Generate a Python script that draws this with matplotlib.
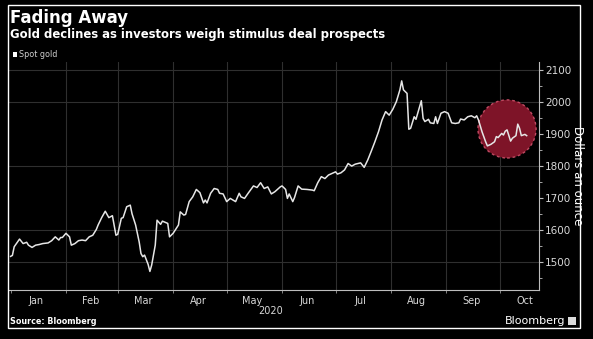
import matplotlib
matplotlib.use("Agg")
import matplotlib.pyplot as plt
import matplotlib.dates as mdates
from matplotlib.patches import Rectangle
from matplotlib.ticker import MultipleLocator, FixedLocator
import pandas as pd

# ------------------ data (spot gold)
dates = [
    "2020-01-01", "2020-01-02", "2020-01-03", "2020-01-06", "2020-01-08", "2020-01-10",
    "2020-01-11", "2020-01-13", "2020-01-15", "2020-01-17", "2020-01-19", "2020-01-22",
    "2020-01-24", "2020-01-26", "2020-01-28", "2020-01-29", "2020-01-30", "2020-02-01",
    "2020-02-03", "2020-02-04", "2020-02-06", "2020-02-08", "2020-02-10", "2020-02-12",
    "2020-02-14", "2020-02-16", "2020-02-18", "2020-02-19", "2020-02-21", "2020-02-23",
    "2020-02-25", "2020-02-27", "2020-02-29", "2020-03-01", "2020-03-03", "2020-03-04",
    "2020-03-06", "2020-03-08", "2020-03-09", "2020-03-11", "2020-03-13", "2020-03-14",
    "2020-03-15", "2020-03-16", "2020-03-18", "2020-03-19", "2020-03-20", "2020-03-22",
    "2020-03-23", "2020-03-25", "2020-03-26", "2020-03-29", "2020-03-30", "2020-04-01",
    "2020-04-04", "2020-04-05", "2020-04-07", "2020-04-08", "2020-04-10", "2020-04-12",
    "2020-04-14", "2020-04-16", "2020-04-18", "2020-04-19", "2020-04-20", "2020-04-22",
    "2020-04-24", "2020-04-26", "2020-04-27", "2020-04-29", "2020-05-01", "2020-05-03",
    "2020-05-06", "2020-05-08", "2020-05-09", "2020-05-11", "2020-05-13", "2020-05-16",
    "2020-05-18", "2020-05-20", "2020-05-22", "2020-05-24", "2020-05-26", "2020-05-28",
    "2020-05-31", "2020-06-01", "2020-06-03", "2020-06-04", "2020-06-05", "2020-06-07",
    "2020-06-08", "2020-06-10", "2020-06-12", "2020-06-15", "2020-06-18", "2020-06-19",
    "2020-06-21", "2020-06-23", "2020-06-25", "2020-06-27", "2020-06-29", "2020-07-01",
    "2020-07-02", "2020-07-04", "2020-07-06", "2020-07-08", "2020-07-10", "2020-07-12",
    "2020-07-15", "2020-07-17", "2020-07-19", "2020-07-21", "2020-07-23", "2020-07-25",
    "2020-07-27", "2020-07-29", "2020-07-31", "2020-08-02", "2020-08-04", "2020-08-06",
    "2020-08-07", "2020-08-08", "2020-08-10", "2020-08-11", "2020-08-12", "2020-08-14",
    "2020-08-15", "2020-08-18", "2020-08-19", "2020-08-20", "2020-08-22", "2020-08-23",
    "2020-08-25", "2020-08-26", "2020-08-27", "2020-08-29", "2020-08-31", "2020-09-02",
    "2020-09-04", "2020-09-06", "2020-09-08", "2020-09-09", "2020-09-11", "2020-09-13",
    "2020-09-15", "2020-09-17", "2020-09-18", "2020-09-19", "2020-09-21", "2020-09-23",
    "2020-09-24", "2020-09-26", "2020-09-28", "2020-09-29", "2020-09-30", "2020-10-02",
    "2020-10-03", "2020-10-04", "2020-10-05", "2020-10-07", "2020-10-08", "2020-10-10",
    "2020-10-11", "2020-10-12", "2020-10-13", "2020-10-15", "2020-10-16",
]
prices = [
    1517, 1520, 1547, 1571, 1557, 1561,
    1552, 1545, 1552, 1554, 1557, 1559,
    1566, 1578, 1568, 1576, 1576, 1589,
    1578, 1552, 1557, 1566, 1568, 1566,
    1578, 1583, 1601, 1615, 1638, 1658,
    1638, 1644, 1583, 1586, 1636, 1638,
    1672, 1677, 1650, 1615, 1562, 1526,
    1516, 1521, 1492, 1470, 1490, 1552,
    1630, 1617, 1627, 1620, 1578, 1589,
    1615, 1656, 1646, 1648, 1688, 1703,
    1726, 1716, 1684, 1693, 1684, 1714,
    1729, 1726, 1714, 1712, 1688, 1698,
    1688, 1714, 1703, 1698, 1714, 1737,
    1732, 1747, 1729, 1734, 1712, 1719,
    1734, 1737, 1726, 1698, 1712, 1688,
    1701, 1737, 1727, 1726, 1724, 1722,
    1747, 1766, 1760, 1771, 1776, 1781,
    1774, 1778, 1787, 1807, 1799, 1805,
    1809, 1795, 1818, 1846, 1875, 1906,
    1943, 1969, 1958, 1976, 2000, 2037,
    2065, 2037, 2026, 1914, 1917, 1953,
    1945, 2003, 1948, 1938, 1945, 1934,
    1932, 1953, 1932, 1964, 1969, 1964,
    1934, 1932, 1934, 1946, 1943, 1953,
    1956, 1950, 1956, 1943, 1906, 1875,
    1862, 1867, 1875, 1891, 1888, 1901,
    1896, 1908, 1912, 1877, 1886, 1894,
    1930, 1917, 1894, 1898, 1894,
]
month_labels = ["Jan", "Feb", "Mar", "Apr", "May", "Jun", "Jul", "Aug", "Sep", "Oct"]
y_ticks = [1500, 1600, 1700, 1800, 1900, 2000, 2100]
grid_levels = [1500, 1600, 1800, 2000, 2100]
highlight_date = "2020-10-05"
highlight_price = 1915

BG = "black"
FG = "white"
GRID = "#2f2f2f"
TICK = "#d8d8d8"

x = pd.to_datetime(dates)

fig = plt.figure(figsize=(5.93, 3.39), dpi=100, facecolor=BG)
ax = fig.add_axes([8.5 / 593, 49 / 339, (539 - 8.5) / 593, (290 - 62) / 339])
ax.set_facecolor(BG)

# highlight circle behind the line
ax.scatter([pd.Timestamp(highlight_date)], [highlight_price], s=1750,
           facecolor="#7e1428", edgecolor="#c04a62", linewidth=1.0,
           linestyle=(0, (2, 2)), zorder=2)

ax.plot(x, prices, color="#e6e6e6", linewidth=1.1, zorder=3)

# axis ranges
ax.set_xlim(pd.Timestamp("2019-12-30 19:40"), pd.Timestamp("2020-10-22 21:30"))
ax.set_ylim(1412, 2124)

# grid
for lvl in grid_levels:
    ax.axhline(lvl, color=GRID, linewidth=0.8, zorder=1)
for m in range(2, 11):
    ax.axvline(pd.Timestamp(2020, m, 1), color=GRID, linewidth=0.8, zorder=1)

# x axis: ticks at month starts, labels mid-month
ax.xaxis.set_minor_locator(mdates.MonthLocator())
ax.xaxis.set_major_locator(FixedLocator(
    [mdates.date2num(pd.Timestamp(2020, m, 15)) for m in range(1, 11)]))
ax.set_xticklabels(month_labels)
ax.tick_params(axis="x", which="major", length=0, pad=4, labelsize=7, labelcolor=TICK)
ax.tick_params(axis="x", which="minor", length=2.5, color="#9a9a9a", direction="out")

# y axis on the right
ax.yaxis.tick_right()
ax.yaxis.set_label_position("right")
ax.set_yticks(y_ticks)
ax.yaxis.set_minor_locator(MultipleLocator(50))
ax.tick_params(axis="y", which="major", length=3, color="#bdbdbd", pad=1.5,
               labelsize=7.5, labelcolor=TICK)
ax.tick_params(axis="y", which="minor", length=2, color="#bdbdbd")
ax.set_ylabel("Dollars an ounce", color=FG, fontsize=8.5, rotation=270,
              labelpad=9)

for side in ["top", "left"]:
    ax.spines[side].set_visible(False)
ax.spines["bottom"].set_color("#bdbdbd")
ax.spines["right"].set_color("#bdbdbd")
ax.spines["bottom"].set_linewidth(0.8)
ax.spines["right"].set_linewidth(0.8)

# titles and notes
fig.text(10 / 593, 1 - 9 / 339, "Fading Away", color=FG, fontsize=12,
         fontweight="bold", va="top", ha="left")
fig.text(10 / 593, 1 - 28 / 339,
         "Gold declines as investors weigh stimulus deal prospects",
         color=FG, fontsize=8.4, fontweight="bold", va="top", ha="left")
fig.add_artist(Rectangle((12.5 / 593, 1 - 57 / 339), 4.5 / 593, 4.5 / 339,
                         transform=fig.transFigure, color=FG, lw=0))
fig.text(19 / 593, 1 - 54.5 / 339, "Spot gold", color="#cfcfcf", fontsize=5.8,
         va="center", ha="left")
fig.text(271 / 593, 1 - 311 / 339, "2020", color=TICK, fontsize=7,
         va="center", ha="center")
fig.text(10 / 593, 1 - 321 / 339, "Source: Bloomberg", color=FG, fontsize=5.8,
         fontweight="bold", va="center", ha="left")
fig.text(565 / 593, 1 - 321 / 339, "Bloomberg", color=FG, fontsize=8,
         va="center", ha="right")
fig.add_artist(Rectangle((568 / 593, 1 - 325 / 339), 8 / 593, 8 / 339,
                         transform=fig.transFigure, color="#dcdcdc", lw=0))

# outer frame
fig.add_artist(Rectangle((8 / 593, 1 - 328 / 339), (580 - 8) / 593, (328 - 5) / 339,
                         transform=fig.transFigure, fill=False, ec=FG, lw=1.0))

fig.savefig("out.png", dpi=100, facecolor=BG)
